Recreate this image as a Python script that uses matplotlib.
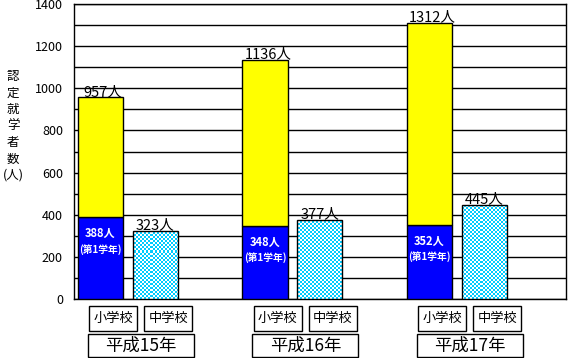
import numpy as np
import matplotlib
matplotlib.use("Agg")
import matplotlib.pyplot as plt
from matplotlib.patches import Rectangle
import matplotlib.transforms as mtransforms

plt.rcParams['font.family'] = ['Noto Sans CJK JP', 'DejaVu Sans']

# data
years = ["平成15年", "平成16年", "平成17年"]
school_labels = ["小学校", "中学校"]
elem_total = [957, 1136, 1312]
elem_first = [388, 348, 352]
junior = [323, 377, 445]

fig = plt.figure(figsize=(5.68, 3.58), dpi=100)
ax = fig.add_axes([74 / 568, 59 / 358, 492 / 568, 295 / 358])

x = np.arange(len(years))
off = 0.167
w = 0.274

elem_rest = [t - f for t, f in zip(elem_total, elem_first)]
ax.bar(x - off, elem_first, w, color="#0000FF", edgecolor="black", linewidth=1, zorder=3)
ax.bar(x - off, elem_rest, w, bottom=elem_first, color="#FFFF00", edgecolor="black", linewidth=1, zorder=3)
jbars = ax.bar(x + off, junior, w, color="none", edgecolor="black", linewidth=1, zorder=4)

ax.set_xlim(-0.328, 2.663)
ax.set_ylim(0, 1400)

# checker pattern for the junior high bars
nx, ny = 246, 148
checker = (np.add.outer(np.arange(ny), np.arange(nx)) % 2).astype(float)
cmap = matplotlib.colors.ListedColormap(["#00CCFF", "#FFFFFF"])
for b in jbars:
    im = ax.imshow(checker, cmap=cmap, extent=[-0.328, 2.663, 0, 1400], aspect="auto",
                   interpolation="nearest", zorder=3)
    im.set_clip_path(b)

ax.set_yticks(np.arange(0, 1401, 200))
ax.set_yticks(np.arange(0, 1401, 100), minor=True)
ax.yaxis.grid(True, which="both", color="black", linewidth=1)
ax.set_axisbelow(True)
ax.tick_params(axis="y", which="both", length=0, pad=8, labelsize=9)
ax.set_xticks([])
for s in ax.spines.values():
    s.set_linewidth(1)
    s.set_color("black")

# value labels
for i in range(len(years)):
    ax.annotate(f"{elem_total[i]}人", (x[i] - off, elem_total[i]), xytext=(2, -1),
                textcoords="offset points", ha="center", va="bottom", fontsize=10.5, zorder=5)
    ax.annotate(f"{junior[i]}人", (x[i] + off, junior[i]), xytext=(0, -1),
                textcoords="offset points", ha="center", va="bottom", fontsize=10.5, zorder=5)
    ax.annotate(f"{elem_first[i]}人", (x[i] - off, elem_first[i]), xytext=(0, -12),
                textcoords="offset points", ha="center", va="center", fontsize=8,
                color="white", fontweight="bold", zorder=5)
    ax.annotate("(第1学年)", (x[i] - off, elem_first[i]), xytext=(0, -23),
                textcoords="offset points", ha="center", va="center", fontsize=7,
                color="white", fontweight="bold", zorder=5)

# boxed category labels below axis
trans = mtransforms.blended_transform_factory(ax.transData, ax.transAxes)
shift = 0.078
bw = 0.292
for i in range(len(years)):
    for j, sx in enumerate([-off, off]):
        cx = x[i] + sx + shift
        ax.add_patch(Rectangle((cx - bw / 2, -0.108), bw, 0.085, transform=trans,
                               fill=False, edgecolor="black", linewidth=1, clip_on=False))
        ax.text(cx, -0.0655, school_labels[j], transform=trans, ha="center", va="center",
                fontsize=9.5)
    cx = x[i] + shift
    yw = 0.644
    ax.add_patch(Rectangle((cx - yw / 2, -0.1966), yw, 0.078, transform=trans,
                           fill=False, edgecolor="black", linewidth=1, clip_on=False))
    ax.text(cx, -0.158, years[i], transform=trans, ha="center", va="center", fontsize=12.5)

# y label, stacked vertically
fig.text(13 / 568, 1 - 126 / 358, "\n".join("認定就学者数") + "\n(人)", ha="center", va="center",
         fontsize=9, linespacing=1.35)

fig.savefig("out.png", dpi=100)
